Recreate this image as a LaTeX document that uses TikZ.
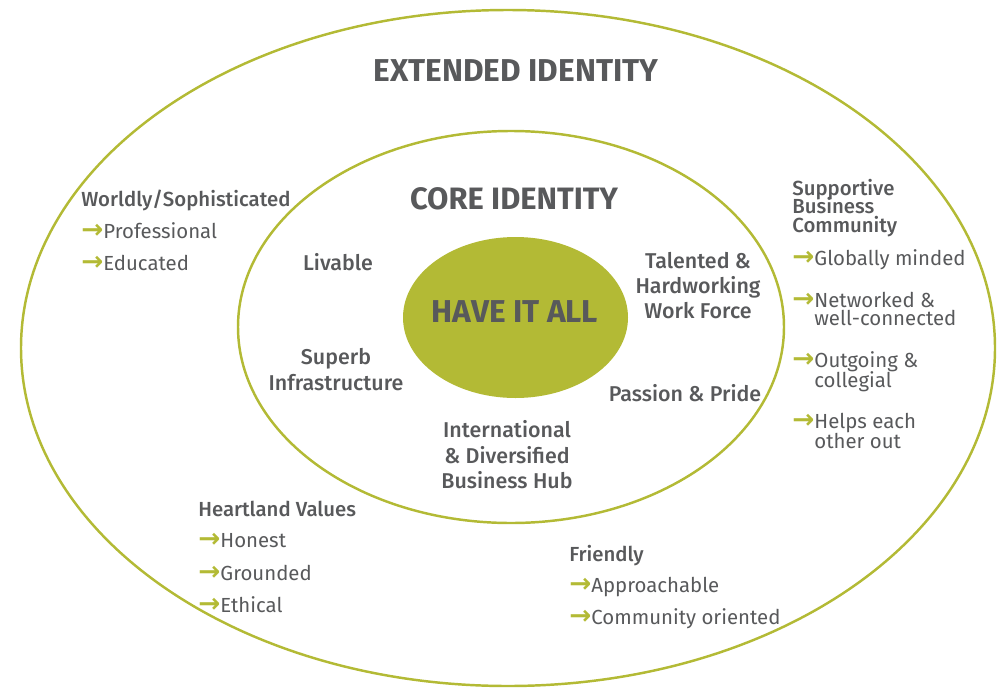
\documentclass[tikz,border=0pt]{standalone}
\usepackage{fontspec}
\setmainfont{Fira Sans}
\newfontfamily\medfont{Fira Sans Medium}
\newfontfamily\arrowfont{DejaVu Sans}
\usetikzlibrary{shapes.geometric}
\definecolor{leaf}{HTML}{B3BA35}
\definecolor{ink}{HTML}{58595B}
\newcommand{\gto}{{\arrowfont\bfseries\fontsize{15}{15}\selectfont\color{leaf}→}}
\tikzset{
  ring/.style={draw=leaf,line width=1.4pt},
  title/.style={text=ink,inner sep=0pt,anchor=mid,font=\fontsize{18}{18}\selectfont\bfseries},
  core/.style={text=ink,inner sep=0pt,anchor=mid,font=\medfont\fontsize{12.2}{12.2}\selectfont},
  head/.style={text=ink,inner sep=0pt,anchor=mid west,font=\medfont\fontsize{11.6}{11.6}\selectfont},
  item/.style={text=ink,inner sep=0pt,anchor=mid west,font=\fontsize{11.6}{11.6}\selectfont},
}
\begin{document}
\begin{tikzpicture}[x=0.02cm,y=-0.02cm]
\useasboundingbox (0,0) rectangle (1001,687);
%rings
\draw[ring] (508,348) ellipse [x radius=487, y radius=338]; %extended
\draw[ring] (511,327) ellipse [x radius=273, y radius=196]; %core
\fill[leaf] (515.5,317.5) ellipse [x radius=112.5, y radius=80.5]; %have it all
\node[title] (haveall) at (515,318) {HAVE IT ALL};
%titles
\node[title] (extended) at (516,77) {EXTENDED IDENTITY};
\node[title,font=\fontsize{17.6}{17.6}\selectfont\bfseries] (coreid) at (514,205) {CORE IDENTITY};
%core identity
\node[core] (livable) at (338,266) {Livable};
\foreach \t/\y [count=\i] in {Talented \&/264,Hardworking/289,Work Force/314}
  \node[core] (talented\i) at (698,\y) {\t};
\foreach \t/\y [count=\i] in {Superb/360,Infrastructure/386}
  \node[core] (superb\i) at (336,\y) {\t};
\node[core] (passion) at (685,397) {Passion \& Pride};
\foreach \t/\y [count=\i] in {International/433,\& Diversified/459,Business Hub/484}
  \node[core] (hub\i) at (507,\y) {\t};
%worldly
\node[head] (worldly) at (81,202) {Worldly/Sophisticated};
\foreach \t/\y [count=\i] in {Professional/234,Educated/266}
  \node[item] (worldly\i) at (81,\y) {\gto\t};
%supportive business community
\foreach \t/\y [count=\i] in {Supportive/191,Business/209,Community/228}
  \node[head] (supportive\i) at (792,\y) {\t};
\foreach \t/\y [count=\i] in {Globally minded/261,Networked \&/303,Outgoing \&/363,Helps each/424}
  \node[item] (support\i) at (792,\y) {\gto\t};
\foreach \t/\y [count=\i] in {well-connected/321,collegial/383,other out/444}
  \node[item] (supportcont\i) at (814,\y) {\t};
%heartland values
\node[head] (heartland) at (198,512) {Heartland Values};
\foreach \t/\y [count=\i] in {Honest/543,Grounded/576,Ethical/608}
  \node[item] (heartland\i) at (198,\y) {\gto\t};
%friendly
\node[head] (friendly) at (569,557) {Friendly};
\foreach \t/\y [count=\i] in {Approachable/588,Community oriented/620}
  \node[item] (friendly\i) at (569,\y) {\gto\t};
\end{tikzpicture}
\end{document}
